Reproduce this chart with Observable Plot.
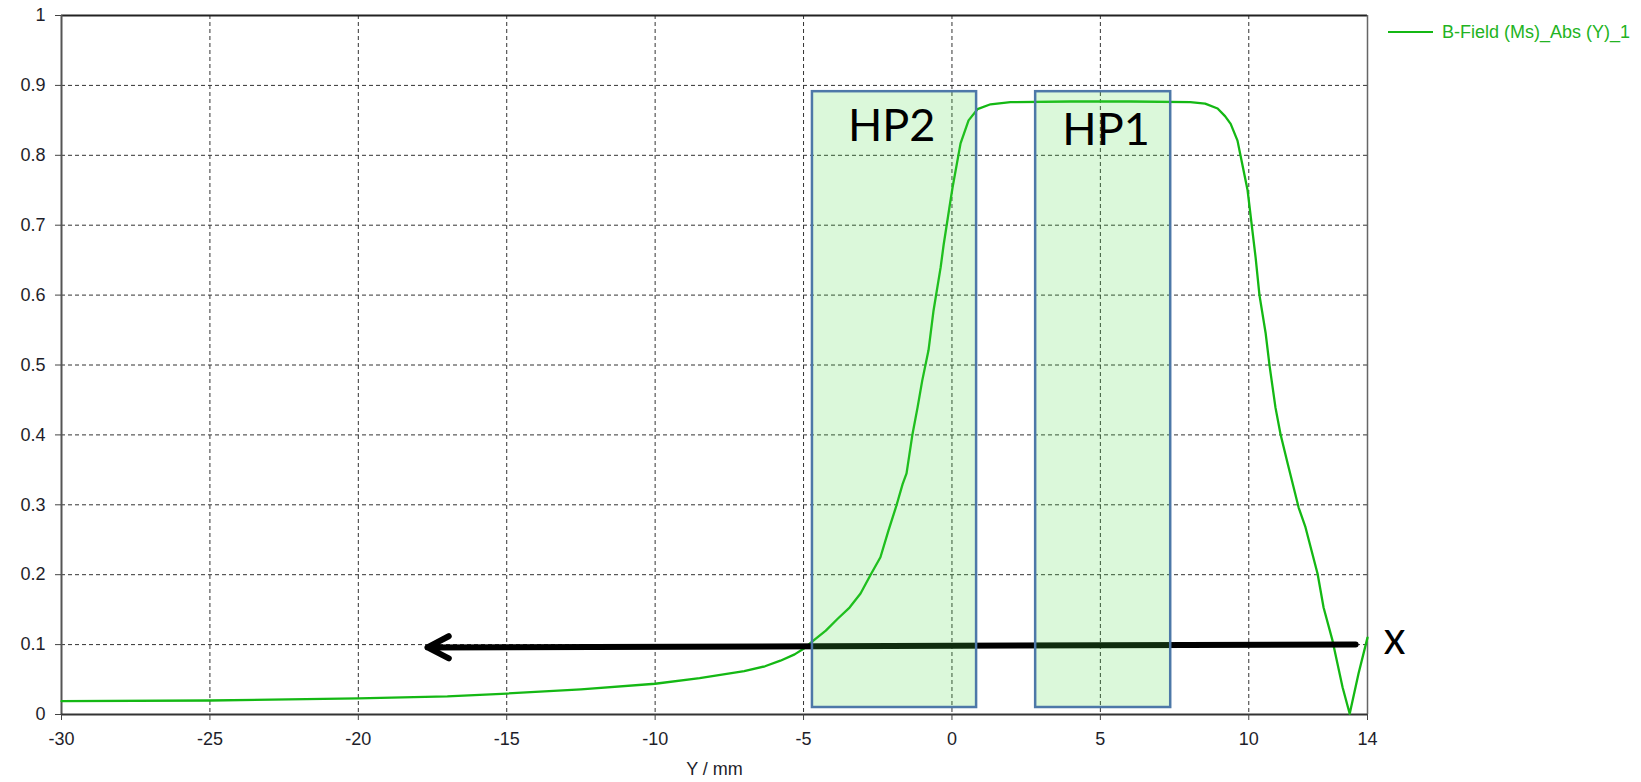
<!DOCTYPE html>
<html><head><meta charset="utf-8">
<script src="https://cdn.jsdelivr.net/npm/d3@7"></script>
<script src="https://cdn.jsdelivr.net/npm/@observablehq/plot@0.6"></script>
<style>
html,body{margin:0;padding:0;background:#fff;}
#wrap{position:relative;width:1641px;height:782px;}
#legend{position:absolute;left:1388px;top:22px;font:18px "Liberation Sans";color:#22b322;display:flex;align-items:center;white-space:nowrap;line-height:20px;}
#legend .sw{display:inline-block;width:45px;height:2px;background:#14b814;margin-right:9px;}
svg{display:block;}
</style></head><body>
<div id="wrap"><div id="legend"><span class="sw"></span><span>B-Field (Ms)_Abs (Y)_1</span></div></div>
<script>
// Curve: B-Field (Ms)_Abs (Y)_1
const posY = [-30,-25,-20,-17,-15,-12.5,-10,-8.5,-7,-6.3,-5.78,-5.3,-5.0,-4.66,-4.25,-3.85,-3.45,-3.08,-2.74,-2.41,-2.14,-1.87,-1.66,-1.53,-1.33,-1.16,-1.0,-0.79,-0.62,-0.38,-0.28,-0.05,0.02,0.29,0.56,0.86,1.3,1.97,4,6,8.03,8.53,8.95,9.2,9.39,9.62,9.72,9.96,10.1,10.23,10.36,10.57,10.7,10.9,11.07,11.31,11.68,11.91,12.32,12.52,12.82,13.16,13.4,13.7,14.0];
const bField = [0.019,0.020,0.023,0.026,0.030,0.036,0.044,0.052,0.062,0.069,0.077,0.086,0.094,0.106,0.120,0.137,0.153,0.173,0.200,0.225,0.263,0.299,0.330,0.345,0.401,0.439,0.478,0.521,0.578,0.640,0.672,0.735,0.754,0.817,0.850,0.866,0.873,0.876,0.877,0.877,0.876,0.874,0.867,0.856,0.845,0.821,0.800,0.750,0.700,0.654,0.600,0.545,0.499,0.439,0.401,0.359,0.296,0.268,0.201,0.153,0.106,0.039,0.001,0.059,0.110];

// Highlight boxes
const boxLabels = ["HP2","HP1"];
const boxX1 = [-4.70, 2.82];
const boxX2 = [0.83, 7.37];
const boxY1 = [0.010, 0.010];
const boxY2 = [0.891, 0.891];
const boxTextX = [-2.03, 5.19];
const boxTextY = [0.841, 0.835];

// Arrow annotation
const arrowX1 = [13.6], arrowY1 = [0.100], arrowX2 = [-17.67], arrowY2 = [0.096];
const markText = ["X"], markX = [14.91], markY = [0.101];

// Ticks
const xTicks = [-30,-25,-20,-15,-10,-5,0,5,10,14];
const xGrid = [-25,-20,-15,-10,-5,0,5,10];
const yTicks = [0,0.1,0.2,0.3,0.4,0.5,0.6,0.7,0.8,0.9,1];
const yTickLabels = ["0","0.1","0.2","0.3","0.4","0.5","0.6","0.7","0.8","0.9","1"];
const yGrid = [0.1,0.2,0.3,0.4,0.5,0.6,0.7,0.8,0.9];

const curve = posY.map((x,i)=>({x, y:bField[i]}));
const boxes = boxLabels.map((t,i)=>({t, x1:boxX1[i], x2:boxX2[i], y1:boxY1[i], y2:boxY2[i], tx:boxTextX[i], ty:boxTextY[i]}));
const arrows = arrowX1.map((d,i)=>({x1:arrowX1[i], y1:arrowY1[i], x2:arrowX2[i], y2:arrowY2[i]}));
const marks = markText.map((t,i)=>({t, x:markX[i], y:markY[i]}));

const chart = Plot.plot({
  width: 1641, height: 782,
  marginLeft: 61, marginRight: 274, marginTop: 15, marginBottom: 68,
  style: {fontFamily: "Liberation Sans", fontSize: "18px", background: "#fff", color: "#1e1e2a"},
  x: {domain: [-30, 14]},
  y: {domain: [0, 1]},
  marks: [
    Plot.gridX(xGrid, {stroke: "#333", strokeOpacity: 1, strokeDasharray: "4,3"}),
    Plot.gridY(yGrid, {stroke: "#333", strokeOpacity: 1, strokeDasharray: "4,3"}),
    Plot.ruleY([1], {stroke: "#222", strokeWidth: 2}),
    Plot.ruleX([14], {stroke: "#666", strokeWidth: 1.5}),
    Plot.ruleX([-30], {stroke: "#555", strokeWidth: 2}),
    Plot.ruleY([0], {stroke: "#333", strokeWidth: 2}),
    Plot.axisY({ticks: yTicks, tickSize: 6, tickPadding: 10, tickFormat: (d,i)=>yTickLabels[i], label: null, stroke: "#444", fill: "#1e1e2a"}),
    Plot.axisX({ticks: xTicks, tickSize: 6, tickPadding: 12, tickFormat: d=>String(d), label: "Y / mm", labelAnchor: "center", labelArrow: "none", labelOffset: 60, stroke: "#444", fill: "#1e1e2a"}),
    Plot.line(curve, {x: "x", y: "y", stroke: "#14b814", strokeWidth: 2.3}),
    Plot.arrow(arrows, {x1: "x1", y1: "y1", x2: "x2", y2: "y2", stroke: "#000", strokeWidth: 6, headLength: 6, headAngle: 55, strokeLinecap: "round", strokeLinejoin: "round"}),
    Plot.rect(boxes, {x1: "x1", x2: "x2", y1: "y1", y2: "y2", fill: "#4bdc46", fillOpacity: 0.2, stroke: "#4d78a8", strokeWidth: 2.5}),
    Plot.text(boxes, {x: "tx", y: "ty", text: "t", fontFamily: "Lato", fontSize: 45, fill: "#000", textAnchor: "middle", lineAnchor: "middle"}),
    Plot.text(marks, {x: "x", y: "y", text: "t", fontFamily: "Lato", fontSize: 32, fontWeight: 600, fill: "#000", textAnchor: "middle", lineAnchor: "middle"})
  ]
});
document.getElementById("wrap").prepend(chart);
</script>
</body></html>
